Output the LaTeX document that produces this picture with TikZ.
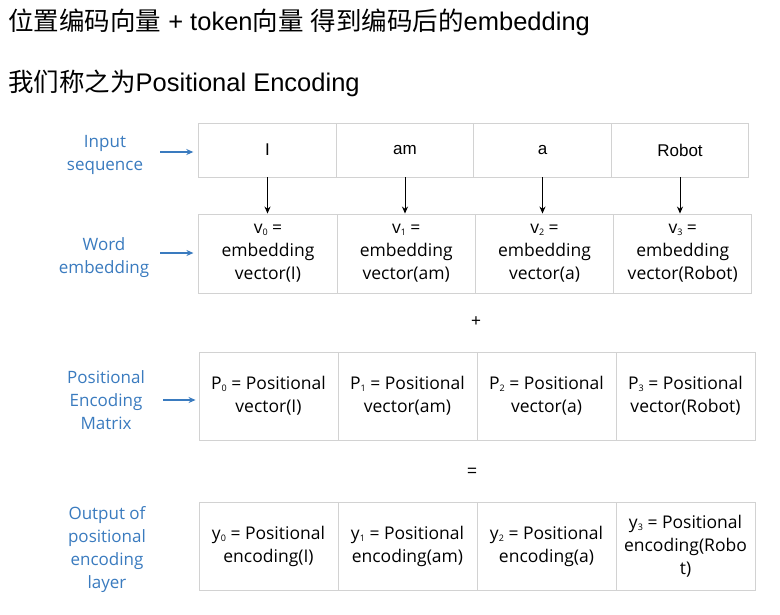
\documentclass[tikz,border=0pt]{standalone}
\usepackage{fontspec}
\setmainfont{Liberation Sans}
\newfontfamily\cjk{Noto Sans CJK SC}
\newfontfamily\hand{Open Sans}
\usetikzlibrary{arrows.meta}

\definecolor{labelblue}{HTML}{3A7BBF}
\definecolor{cellgray}{HTML}{D2D2D2}

\newcommand{\idx}[1]{\raisebox{-2pt}{\fontsize{9}{9}\selectfont #1}}

\tikzset{
	title/.style={anchor=west,inner sep=0pt,font=\fontsize{25.5}{30}\selectfont},
	cell/.style={draw=cellgray,line width=0.9pt,inner sep=0pt,align=center,
		minimum width=139,minimum height=88,font=\hand\fontsize{17.5}{23}\selectfont},
	word/.style={cell,minimum width=137.5,minimum height=54,font=\fontsize{17}{20}\selectfont},
	lbl/.style={text=labelblue,align=center,inner sep=0pt,font=\hand\fontsize{17}{23}\selectfont},
	downarr/.style={line width=1pt,-{Stealth[length=7pt,width=6pt]}},
	bluearr/.style={labelblue,line width=1.3pt,-{Stealth[length=7pt,width=6pt]}},
}

\begin{document}
\begin{tikzpicture}[x=1pt,y=-1pt]
		\useasboundingbox[fill=white] (0,0) rectangle (780,614);
		
		\node[title] (t1) at (8,22) {{\cjk 位置编码向量} + token{\cjk 向量} {\cjk 得到编码后的}embedding};
		\node[title] (t2) at (8,83) {{\cjk 我们称之为}Positional Encoding};
		
		% input sequence
		\node[word] (i0) at (267.5,150) {I};
		\node[word] (i1) at (405,150) {am};
		\node[word] (i2) at (542.5,150) {a};
		\node[word] (i3) at (680,150) {Robot};
		
		% word embedding
		\node[cell,minimum width=138.25,minimum height=79] (v0) at (268,253.5) {v\idx{0} =\\embedding\\vector(I)};
		\node[cell,minimum width=138.25,minimum height=79] (v1) at (406.25,253.5) {v\idx{1} =\\embedding\\vector(am)};
		\node[cell,minimum width=138.25,minimum height=79] (v2) at (544.5,253.5) {v\idx{2} =\\embedding\\vector(a)};
		\node[cell,minimum width=138.25,minimum height=79] (v3) at (682.75,253.5) {v\idx{3} =\\embedding\\vector(Robot)};
		
		\draw[downarr] (i0.south) -- (i0.south |- v0.north);
		\draw[downarr] (i1.south) -- (i1.south |- v1.north);
		\draw[downarr] (i2.south) -- (i2.south |- v2.north);
		\draw[downarr] (i3.south) -- (i3.south |- v3.north);
		
		\node[font=\fontsize{17}{20}\selectfont] (plus) at (476,322) {+};
		
		% positional encoding matrix
		\node[cell] (p0) at (268.5,396) {P\idx{0} = Positional\\vector(I)};
		\node[cell] (p1) at (407.5,396) {P\idx{1} = Positional\\vector(am)};
		\node[cell] (p2) at (546.5,396) {P\idx{2} = Positional\\vector(a)};
		\node[cell] (p3) at (685.5,396) {P\idx{3} = Positional\\vector(Robot)};
		
		\node[font=\fontsize{17}{20}\selectfont] (eq) at (472,472) {=};
		
		% output
		\node[cell] (y0) at (268.5,546) {y\idx{0} = Positional\\encoding(I)};
		\node[cell] (y1) at (407.5,546) {y\idx{1} = Positional\\encoding(am)};
		\node[cell] (y2) at (546.5,546) {y\idx{2} = Positional\\encoding(a)};
		\node[cell] (y3) at (685.5,546) {y\idx{3} = Positional\\encoding(Robo\\t)};
		
		% labels on the left
		\node[lbl] (linp) at (105,155) {Input\\sequence};
		\node[lbl] (lemb) at (104,257.5) {Word\\embedding};
		\node[lbl] (lpos) at (106,400) {Positional\\Encoding\\Matrix};
		\node[lbl] (lout) at (107,549.5) {Output of\\positional\\encoding\\layer};
		
		\coordinate (a0) at (160,152);
		\coordinate (a1) at (160,253);
		\coordinate (a2) at (163,400);
		\draw[bluearr,shorten >=5pt] (a0) -- (a0 -| i0.west);
		\draw[bluearr,shorten >=5pt] (a1) -- (a1 -| v0.west);
		\draw[bluearr,shorten >=3pt] (a2) -- (a2 -| p0.west);
	\end{tikzpicture}
\end{document}
